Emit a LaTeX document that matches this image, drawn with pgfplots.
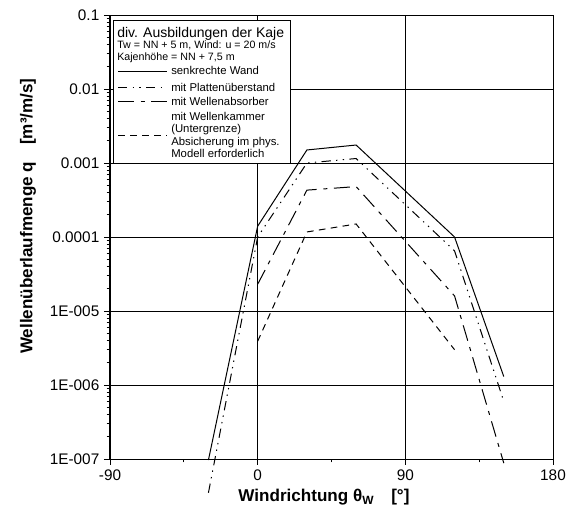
\documentclass[border=0pt]{standalone}
\usepackage{fontspec}
\setmainfont{Liberation Sans}
\usepackage{pgfplots}
\pgfplotsset{compat=1.18}
\begin{document}
\begin{tikzpicture}
\useasboundingbox (-82.5pt,-41.25pt) rectangle (342.75pt,344.25pt);
\begin{axis}[
  at={(0,0)}, anchor=south west,
  width=332.25pt, height=333pt, scale only axis,
  ymode=log, xmin=-90, xmax=180, ymin=1e-7, ymax=0.1,
  xtick={-90,0,90,180}, xticklabels={-90,0,90,180},
  minor xtick={-45,45,135},
  ytick={1e-7,1e-6,1e-5,1e-4,1e-3,1e-2,1e-1},
  yticklabels={1E-007,1E-006,1E-005,0.0001,0.001,0.01,0.1},
  minor ytick={2e-7,3e-7,4e-7,5e-7,6e-7,7e-7,8e-7,9e-7,
    2e-6,3e-6,4e-6,5e-6,6e-6,7e-6,8e-6,9e-6,
    2e-5,3e-5,4e-5,5e-5,6e-5,7e-5,8e-5,9e-5,
    2e-4,3e-4,4e-4,5e-4,6e-4,7e-4,8e-4,9e-4,
    2e-3,3e-3,4e-3,5e-3,6e-3,7e-3,8e-3,9e-3,
    2e-2,3e-2,4e-2,5e-2,6e-2,7e-2,8e-2,9e-2},
  grid=major, major grid style={black, line width=0.6pt},
  minor grid style={draw=none},
  axis line style={black, line width=0.75pt},
  tick style={black, line width=0.6pt},
  tick align=outside, major tick length=4.5pt, minor tick length=2.5pt,
  tick pos=left,
  /pgf/number format/assume math mode=true,
  ticklabel style={font=\fontsize{11.5}{13}\selectfont},
  xlabel={\textbf{Windrichtung θ\textsubscript{W}\quad[°]}},
  ylabel={\textbf{Wellenüberlaufmenge q\quad[m³/m/s]}},
  xlabel style={at={(axis description cs:0.483,-0.0856)}, anchor=center, font=\fontsize{12.8}{15}\selectfont},
  ylabel style={at={(axis description cs:-0.185,0.547)}, anchor=center, font=\fontsize{12.8}{15}\selectfont},
  clip=false,
]
% senkrechte Wand
\addplot[black, line width=0.75pt] coordinates {(-30,9.7e-8) (0,1.4e-4) (30,1.5e-3) (60,1.75e-3) (120,1e-4) (150,1.3e-6)};
% mit Plattenueberstand
\addplot[black, line width=0.75pt, dash pattern=on 7pt off 4pt on 1pt off 4pt on 1pt off 4pt] coordinates {(-30,3.5e-8) (0,1e-4) (30,1e-3) (60,1.15e-3) (120,6.5e-5) (150,6e-7)};
% mit Wellenabsorber
\addplot[black, line width=0.75pt, dash pattern=on 12pt off 5pt on 3pt off 5pt] coordinates {(0,2.3e-5) (30,4.3e-4) (60,4.8e-4) (120,1.6e-5) (150,8.8e-8)};
% mit Wellenkammer
\addplot[black, line width=0.75pt, dash pattern=on 5pt off 4pt] coordinates {(0,3.9e-6) (30,1.17e-4) (60,1.5e-4) (120,3e-6)};
\end{axis}
\begin{scope}[shift={(-82.5pt,344.25pt)}, x=0.75pt, y=-0.75pt]
\draw[black, line width=0.6pt, fill=white] (113,20) rectangle (290,163);
\node[anchor=base west, inner sep=0pt, font=\fontsize{10.5}{12}\selectfont] at (117,37.3) {div. Ausbildungen der Kaje};
\node[anchor=base west, inner sep=0pt, font=\fontsize{8}{9}\selectfont] at (117,49) {Tw = NN + 5 m, Wind: u = 20 m/s};
\node[anchor=base west, inner sep=0pt, font=\fontsize{8}{9}\selectfont] at (117,61) {Kajenhöhe = NN + 7,5 m};
\draw[black, line width=0.75pt] (118,71.5) -- (167,71.5);
\node[anchor=base west, inner sep=0pt, font=\fontsize{8.5}{10}\selectfont] at (171,75) {senkrechte Wand};
\draw[black, line width=0.75pt, dash pattern=on 7pt off 4pt on 1pt off 4pt on 1pt off 4pt] (118,88) -- (167,88);
\node[anchor=base west, inner sep=0pt, font=\fontsize{8.5}{10}\selectfont] at (171,91.5) {mit Plattenüberstand};
\draw[black, line width=0.75pt, dash pattern=on 12pt off 5pt on 3pt off 5pt] (118,102) -- (167,102);
\node[anchor=base west, inner sep=0pt, font=\fontsize{8.5}{10}\selectfont] at (171,106) {mit Wellenabsorber};
\draw[black, line width=0.75pt, dash pattern=on 5pt off 4pt] (118,136) -- (167,136);
\node[anchor=base west, inner sep=0pt, font=\fontsize{8.5}{10}\selectfont] at (171,121) {mit Wellenkammer};
\node[anchor=base west, inner sep=0pt, font=\fontsize{8.5}{10}\selectfont] at (171,133) {(Untergrenze)};
\node[anchor=base west, inner sep=0pt, font=\fontsize{8.5}{10}\selectfont] at (171,146) {Absicherung im phys.};
\node[anchor=base west, inner sep=0pt, font=\fontsize{8.5}{10}\selectfont] at (171,158) {Modell erforderlich};
\end{scope}
\end{tikzpicture}
\end{document}
